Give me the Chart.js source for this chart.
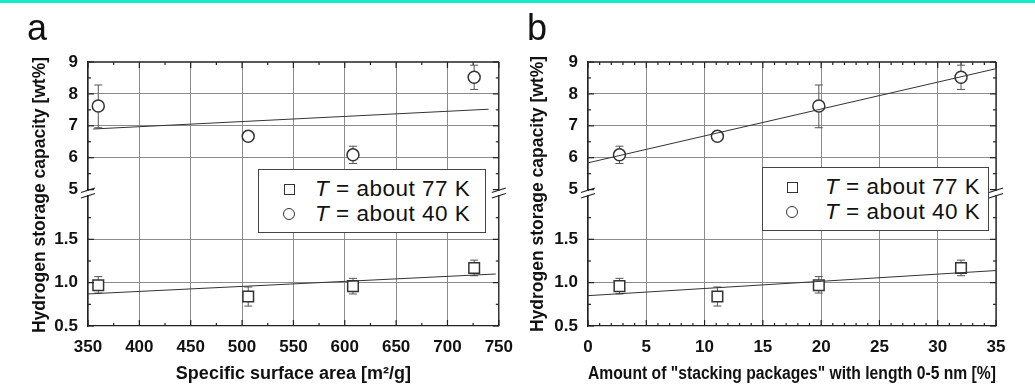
<!DOCTYPE html>
<html>
<head>
<meta charset="utf-8">
<script src="https://cdn.jsdelivr.net/npm/chart.js@4.4.1/dist/chart.umd.min.js"></script>
<style>
  body { margin: 0; background: #fff; font-family: "Liberation Sans", Arial, sans-serif; }
  #topbar { position: absolute; left: 0; top: 0; width: 1035px; height: 3px; background: #14ecc8; }
  .panel { position: absolute; top: 0; height: 388px; }
  .letter { position: absolute; font-size: 36px; line-height: 1; color: #111; }
  .ytitle { position: absolute; transform: translate(-50%, -50%) rotate(-90deg); font-weight: bold;
            font-size: 17.5px; white-space: nowrap; color: #111; }
  .legend { position: absolute; border: 1.5px solid #444; background: #fff; box-sizing: border-box; }
  .row { position: absolute; left: 0; font-size: 22.5px; letter-spacing: 0.5px; white-space: nowrap; color: #111; line-height: 1; }
  .sym { position: absolute; box-sizing: border-box; border: 1.6px solid #333; background: #fff; }
  .txt { position: absolute; }
</style>
</head>
<body>
<div id="topbar"></div>
<div class="panel" style="left:0;width:524px"><canvas id="chartA"></canvas></div>
<div class="panel" style="left:517px;width:518px"><canvas id="chartB"></canvas></div>

<div class="letter" style="left:27px;top:10px">a</div>
<div class="letter" style="left:527px;top:10px">b</div>
<div class="ytitle" style="left:39px;top:195px">Hydrogen storage capacity [wt%]</div>
<div class="ytitle" style="left:537px;top:194px">Hydrogen storage capacity [wt%]</div>

<div class="legend" style="left:258px;top:169px;width:228px;height:64px">
  <div class="sym" style="left:25px;top:14px;width:11px;height:11px"></div>
  <div class="row txt" style="left:56px;top:8px"><i>T</i> = about 77 K</div>
  <div class="sym" style="left:24px;top:38px;width:12px;height:12px;border-radius:50%"></div>
  <div class="row txt" style="left:56px;top:33px"><i>T</i> = about 40 K</div>
</div>
<div class="legend" style="left:762px;top:167px;width:227px;height:64px">
  <div class="sym" style="left:24px;top:14px;width:11px;height:11px"></div>
  <div class="row txt" style="left:62px;top:8px"><i>T</i> = about 77 K</div>
  <div class="sym" style="left:23px;top:38px;width:12px;height:12px;border-radius:50%"></div>
  <div class="row txt" style="left:62px;top:33px"><i>T</i> = about 40 K</div>
</div>

<script>
// samples, same order in both panels
const surfaceArea = [360, 506, 608, 726];          // m2/g
const stackingShare = [19.8, 11.1, 2.7, 32.0];     // %
const h2At77 = [0.97, 0.84, 0.96, 1.17];
const h2At77Low = [0.88, 0.73, 0.87, 1.08];
const h2At77High = [1.07, 0.95, 1.05, 1.26];
const h2At40 = [7.62, 6.67, 6.09, 8.52];
const h2At40Low = [6.94, 6.61, 5.82, 8.14];
const h2At40High = [8.28, 6.73, 6.36, 8.90];

// linear fits (end points)
const fitAreaX77 = [350, 747], fitAreaY77 = [0.87, 1.10];
const fitAreaX40 = [355, 740], fitAreaY40 = [6.90, 7.52];
const fitStackX = [0, 35];
const fitStackY77 = [0.85, 1.14], fitStackY40 = [5.84, 8.79];

// tick labels of the broken y axis
const lowTicks = [0.5, 1.0, 1.5];
const highTicks = [5, 6, 7, 8, 9];

function pts(xs, ys){ return xs.map((x, i) => ({x: x, y: ys[i]})); }

// error bars, frame, inward ticks and the axis breaks
const framePlugin = {
  id: 'frame',
  beforeDatasetsDraw(chart){
    const ctx = chart.ctx, xs = chart.scales.x;
    ctx.save();
    ctx.strokeStyle = '#555'; ctx.lineWidth = 1;
    chart.data.datasets.forEach(ds => {
      if(!ds.errLow) return;
      const ys = chart.scales[ds.yAxisID];
      ds.data.forEach((p, i) => {
        const px = xs.getPixelForValue(p.x);
        const lo = ys.getPixelForValue(ds.errLow[i]), hi = ys.getPixelForValue(ds.errHigh[i]);
        ctx.beginPath();
        ctx.moveTo(px, lo); ctx.lineTo(px, hi);
        ctx.moveTo(px - 4, lo); ctx.lineTo(px + 4, lo);
        ctx.moveTo(px - 4, hi); ctx.lineTo(px + 4, hi);
        ctx.stroke();
      });
    });
    ctx.restore();
  },
  afterDraw(chart, args, o){
    const ctx = chart.ctx, a = chart.chartArea, x = chart.scales.x;
    const yl = chart.scales.yLow, yh = chart.scales.yHigh;
    const line = (x1, y1, x2, y2) => { ctx.beginPath(); ctx.moveTo(x1, y1); ctx.lineTo(x2, y2); ctx.stroke(); };
    ctx.save();
    ctx.strokeStyle = '#222'; ctx.lineWidth = 1.3;
    line(a.left, a.top, a.right, a.top);
    line(a.right, a.top, a.right, a.bottom);
    ctx.lineWidth = 1.2;
    for(let v = x.min; v <= x.max + 1e-9; v += o.xMinor){
      const px = x.getPixelForValue(v);
      const len = Math.abs((v - x.min) / o.xMajor - Math.round((v - x.min) / o.xMajor)) < 1e-6 ? 6 : 3;
      line(px, a.bottom, px, a.bottom - len);
      line(px, a.top, px, a.top + len);
    }
    const yTicks = (s, from, to, minor, major) => {
      for(let v = from; v <= to + 1e-9; v += minor){
        const py = s.getPixelForValue(v);
        const len = Math.abs(v / major - Math.round(v / major)) < 1e-6 ? 6 : 3;
        line(a.left, py, a.left + len, py);
        line(a.right, py, a.right - len, py);
      }
    };
    yTicks(yh, 5, 9, 0.5, 1);
    yTicks(yl, 0.5, 1.75, 0.25, 0.5);
    // breaks
    const cy = yl.top - 3;
    [a.left, a.right].forEach(bx => {
      ctx.fillStyle = '#fff';
      ctx.fillRect(bx - 2, cy - 2, 4, 4);
      ctx.strokeStyle = '#222'; ctx.lineWidth = 1.3;
      line(bx - 7, cy - 0.5, bx + 7, cy - 5);
      line(bx - 7, cy + 5, bx + 7, cy + 0.5);
    });
    ctx.restore();
  }
};

const tickFont = {family: '"Liberation Sans", Arial, sans-serif', size: 17, weight: 'bold'};
const gridColor = '#8c8c8c';

function buildPanel(id, cfg){
  const marker = {showLine: false, pointBackgroundColor: '#fff', pointBorderColor: '#333', pointBorderWidth: 1.5};
  const fitLine = {showLine: true, pointRadius: 0, borderColor: '#333', borderWidth: 1, fill: false};
  new Chart(document.getElementById(id), {
    type: 'scatter',
    data: {
      datasets: [
        Object.assign({label: 'fit77', data: pts(cfg.fitX77, cfg.fitY77), yAxisID: 'yLow'}, fitLine),
        Object.assign({label: 'fit40', data: pts(cfg.fitX40, cfg.fitY40), yAxisID: 'yHigh'}, fitLine),
        Object.assign({label: 'T = about 77 K', data: pts(cfg.xs, h2At77), yAxisID: 'yLow',
          pointStyle: 'rect', pointRadius: 7.5, errLow: h2At77Low, errHigh: h2At77High}, marker),
        Object.assign({label: 'T = about 40 K', data: pts(cfg.xs, h2At40), yAxisID: 'yHigh',
          pointStyle: 'circle', pointRadius: 6, errLow: h2At40Low, errHigh: h2At40High}, marker)
      ]
    },
    options: {
      responsive: false,
      animation: false,
      layout: {padding: {top: 62, right: cfg.padRight, left: 0, bottom: 0}},
      plugins: {legend: {display: false}, tooltip: {enabled: false},
        frame: {xMinor: cfg.xMinor, xMajor: cfg.xStep}},
      scales: {
        x: {
          type: 'linear', min: cfg.xMin, max: cfg.xMax,
          ticks: {stepSize: cfg.xStep, color: '#111', font: tickFont, padding: 11, maxRotation: 0, autoSkip: false},
          grid: {color: gridColor, drawTicks: false},
          border: {color: '#222', width: 1.3},
          title: {display: true, text: cfg.xTitle, color: '#111', padding: {top: 2, bottom: 3},
            font: {family: '"Liberation Sans", Arial, sans-serif', size: 18, weight: 'bold'}},
          afterFit: s => { s.height = 62; }
        },
        yLow: {
          type: 'linear', position: 'left', stack: 'cap', stackWeight: 130,
          min: 0.5, max: 2.0,
          ticks: {color: '#111', font: tickFont, padding: 10, autoSkip: false, callback: v => v.toFixed(1)},
          afterBuildTicks: s => { s.ticks = lowTicks.map(v => ({value: v})); },
          grid: {color: c => (c.tick && c.tick.value < 0.6) ? 'rgba(0,0,0,0)' : gridColor, drawTicks: false},
          border: {color: '#222', width: 1.3},
          afterFit: s => { s.width = cfg.axisLeft; }
        },
        yHigh: {
          type: 'linear', position: 'left', stack: 'cap', stackWeight: 134,
          min: 4.8, max: 9,
          ticks: {color: '#111', font: tickFont, padding: 10, autoSkip: false},
          afterBuildTicks: s => { s.ticks = highTicks.map(v => ({value: v})); },
          grid: {color: c => (c.tick && (c.tick.value < 5.5 || c.tick.value > 8.5)) ? 'rgba(0,0,0,0)' : gridColor, drawTicks: false},
          border: {color: '#222', width: 1.3},
          afterFit: s => { s.width = cfg.axisLeft; }
        }
      }
    },
    plugins: [framePlugin]
  });
}

const cA = document.getElementById('chartA'); cA.width = 524; cA.height = 388;
const cB = document.getElementById('chartB'); cB.width = 518; cB.height = 388;

buildPanel('chartA', {
  xs: surfaceArea, xMin: 350, xMax: 750, xStep: 50, xMinor: 25,
  fitX77: fitAreaX77, fitY77: fitAreaY77, fitX40: fitAreaX40, fitY40: fitAreaY40,
  xTitle: 'Specific surface area [m\u00b2/g]', axisLeft: 88, padRight: 14
});
buildPanel('chartB', {
  xs: stackingShare, xMin: 0, xMax: 35, xStep: 5, xMinor: 1,
  fitX77: fitStackX, fitY77: fitStackY77, fitX40: fitStackX, fitY40: fitStackY40,
  xTitle: 'Amount of "stacking packages" with length 0-5 nm [%]', axisLeft: 71, padRight: 39
});
</script>
</body>
</html>
